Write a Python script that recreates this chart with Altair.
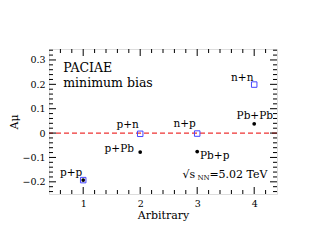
import altair as alt
import pandas as pd
import numpy as np

# data
sq_labels = ["p+p", "p+n", "n+p", "n+n"]
sq_x = [1, 2, 3, 4]
sq_y = [-0.193, -0.003, -0.002, 0.199]

dot_labels = ["p+p", "p+Pb", "Pb+p", "Pb+Pb"]
dot_x = [1, 2, 3, 4]
dot_y = [-0.193, -0.078, -0.076, 0.038]

lab_text = ["p+p", "p+n", "p+Pb", "n+p", "Pb+p", "Pb+Pb", "n+n"]
lab_x = [0.79, 1.78, 1.89, 2.78, 3.05, 4.01, 3.79]
lab_y = [-0.162, 0.034, -0.065, 0.036, -0.093, 0.071, 0.228]
lab_align = ["center", "center", "right", "center", "left", "center", "center"]

x_major = [1, 2, 3, 4]
y_major = [-0.2, -0.1, 0.0, 0.1, 0.2, 0.3]

XDOM = [0.4, 4.4]
YDOM = [-0.25, 0.345]
W, H = 228, 145
FONT = "DejaVu Serif"

x_minor = [v for v in np.round(np.arange(0.6, 4.4, 0.2), 2) if v not in x_major]
y_minor = [v for v in np.round(np.arange(-0.24, 0.345, 0.02), 2) if not any(abs(v - m) < 1e-6 for m in y_major)]

xs = alt.Scale(domain=XDOM, nice=False, zero=False)
ys = alt.Scale(domain=YDOM, nice=False, zero=False)

x_axis = alt.Axis(values=x_major, format="d", ticks=False, domain=False,
                  grid=False, title="Arbitrary", labelFont=FONT, labelFontSize=9.5,
                  titleFont=FONT, titleFontSize=11, titleFontWeight="normal",
                  labelPadding=4, titlePadding=2, labelColor="black", titleColor="black",
                  labelOverlap=False)
y_axis = alt.Axis(values=y_major, ticks=False, domain=False, grid=False,
                  title="Aμ", labelFont=FONT, labelFontSize=9.5,
                  labelExpr="abs(datum.value) < 1e-9 ? '0' : format(datum.value, '.1f')",
                  titleFont=FONT, titleFontSize=11, titleFontWeight="normal",
                  labelPadding=4, titlePadding=2, labelColor="black", titleColor="black",
                  labelOverlap=False)


def X(f="x:Q"):
    return alt.X(f, scale=xs, axis=x_axis)


def Y(f="y:Q"):
    return alt.Y(f, scale=ys, axis=y_axis)


sq = pd.DataFrame({"x": sq_x, "y": sq_y, "l": sq_labels})
dots = pd.DataFrame({"x": dot_x, "y": dot_y, "l": dot_labels})
labs = pd.DataFrame({"x": lab_x, "y": lab_y, "t": lab_text, "a": lab_align})

zero = alt.Chart(pd.DataFrame({"y": [0.0]})).mark_rule(color="#ee3333", strokeDash=[5, 3], strokeWidth=1.2).encode(
    y=Y())


def xticks(vals, L):
    d = pd.DataFrame({"x": vals})
    bot = alt.Chart(d).mark_rule(color="black", strokeWidth=1).encode(
        x=X(), y=alt.value(H), y2=alt.value(H - L))
    top = alt.Chart(d).mark_rule(color="black", strokeWidth=1).encode(
        x=X(), y=alt.value(0), y2=alt.value(L))
    return [bot, top]


def yticks(vals, L):
    d = pd.DataFrame({"y": vals})
    lft = alt.Chart(d).mark_rule(color="black", strokeWidth=1).encode(
        y=Y(), x=alt.value(0), x2=alt.value(L))
    rgt = alt.Chart(d).mark_rule(color="black", strokeWidth=1).encode(
        y=Y(), x=alt.value(W), x2=alt.value(W - L))
    return [lft, rgt]


squares = alt.Chart(sq).mark_point(shape="square", filled=False, color="#4444ff", size=30, strokeWidth=1, opacity=1).encode(
    x=X(), y=Y())
dot_m = alt.Chart(dots).mark_circle(color="black", size=14, opacity=1).encode(x=X(), y=Y())

texts = []
for al in ["left", "center", "right"]:
    texts.append(alt.Chart(labs[labs["a"] == al]).mark_text(font=FONT, fontSize=10.5, align=al, baseline="middle", color="black").encode(
        x=X(), y=Y(), text="t:N"))

ann_text = ["PACIAE", "minimum bias"]
ann_x = [0.65, 0.65]
ann_y = [0.268, 0.204]
ann_size = [12.5, 12.5]
ann = alt.Chart(pd.DataFrame({"x": ann_x, "y": ann_y, "t": ann_text, "s": ann_size})).mark_text(
    font=FONT, align="left", baseline="middle", color="black").encode(
    x=X(), y=Y(), text="t:N", size=alt.Size("s:Q", scale=None, legend=None))

en_x = [2.74]
en_y = [-0.172]
en = pd.DataFrame({"x": en_x, "y": en_y})
e1 = alt.Chart(en).mark_text(font=FONT, fontSize=11, align="left", baseline="middle", color="black", text="√s").encode(
    x=X(), y=Y())
e2 = alt.Chart(en).mark_text(font=FONT, fontSize=7, align="left", baseline="middle", color="black", text="NN", dx=15, dy=3).encode(
    x=X(), y=Y())
e3 = alt.Chart(en).mark_text(font=FONT, fontSize=11, align="left", baseline="middle", color="black", text="=5.02 TeV", dx=27).encode(
    x=X(), y=Y())

layers = [zero] + xticks(x_major, 7) + xticks(x_minor, 4) + yticks(y_major, 7) + yticks(y_minor, 4) + \
    [squares, dot_m] + texts + [ann, e1, e2, e3]

chart = alt.layer(*layers).properties(
    width=W, height=H,
    autosize=alt.AutoSizeParams(type="none"),
    padding={"left": 41, "top": 41, "right": 29, "bottom": 40},
).configure_view(stroke="black", strokeWidth=1).configure(background="white", font=FONT)

chart.save("out.html", embed_options={"renderer": "svg", "actions": False})
